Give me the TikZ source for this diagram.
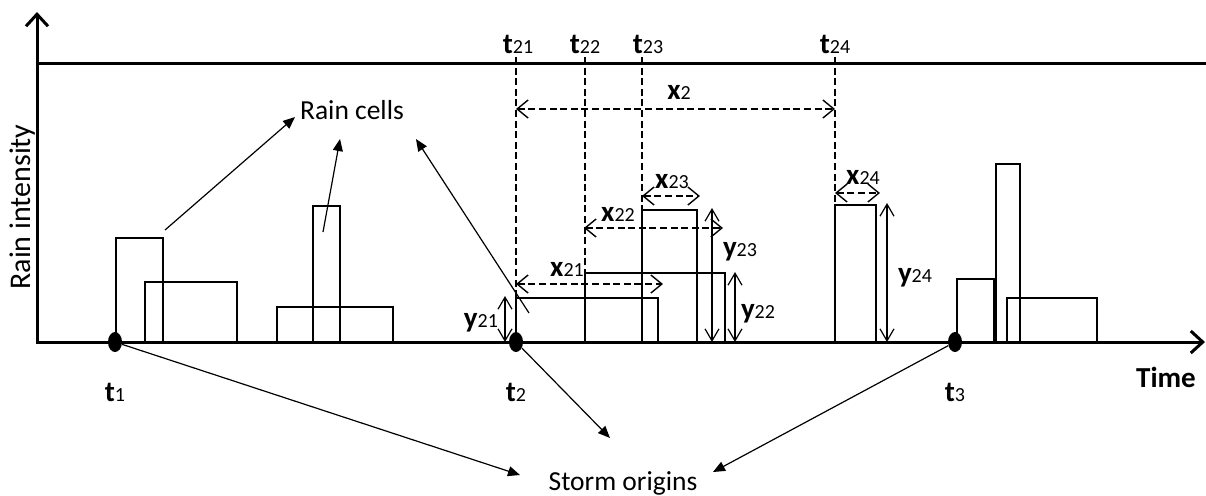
\documentclass[tikz,border=0pt]{standalone}
\usepackage{fontspec}
\setmainfont{Carlito}
\usetikzlibrary{arrows.meta,shapes.geometric}
\newcommand\sbs[1]{{\mdseries\fontsize{10}{12}\selectfont#1}}
\begin{document}
\begin{tikzpicture}[x=.5pt,y=-.5pt,
axis/.style={line width=1.5pt,line join=miter,{Straight Barb[length=6pt,width=11pt]}-{Straight Barb[length=6pt,width=11pt]}},
cell/.style={line width=.8pt},
guide/.style={dash pattern=on 3.5pt off 1.8pt,line width=.7pt},
span/.style={guide,{Straight Barb[length=5.5pt,width=9pt]}-{Straight Barb[length=5.5pt,width=9pt]}},
height/.style={line width=.6pt,{Straight Barb[length=6pt,width=7pt]}-{Straight Barb[length=6pt,width=7pt]}},
point/.style={line width=.6pt,-{Triangle[length=6pt,width=5pt]}},
origin/.style={ellipse,fill,inner sep=0,minimum width=7pt,minimum height=10pt},
lab/.style={font=\fontsize{14.5}{16}\selectfont\bfseries,anchor=base,inner sep=0},
txt/.style={font=\fontsize{13.75}{16}\selectfont,anchor=base,inner sep=0}]
\useasboundingbox (0,0) rectangle (1206,495);
% axes and upper limit
\draw[axis] (37,12) -- (37,342) -- (1205,342);
\draw[line width=1.5pt] (37,63) -- (1206,63);
\node[txt,rotate=90,font=\fontsize{15}{16}\selectfont] (ri) at (31,207) {Rain intensity};
\node[lab] (time) at (1166,387) {Time};
% rain cells
\foreach \a/\b/\h in {116/163/238,145/237/282,277/393/307,313/340/206,516/658/298,585/725/273,642/697/210,835/876/205,957/994/279,996/1020/164,1007/1097/298}
  \draw[cell] (\a,342) rectangle (\b,\h);
% cell starts of storm 2
\foreach \n/\x/\h/\lx in {21/516/298/518,22/585/273/585,23/642/210/648,24/835/205/835}{
  \draw[guide] (\x,57) -- (\x,\h);
  \node[lab] (t\n) at (\lx,53) {t\sbs{\n}};}
\foreach \n/\a/\b/\y/\lx/\ly in {2/516/835/109/679/99,21/516/663/284/567/276,22/584/723/228/618/221,23/642/700/196/672/188,24/835/880/193/863/184}{
  \draw[span] (\a,\y) -- (\b,\y);
  \node[lab] (x\n) at (\lx,\ly) {x\sbs{\n}};}
\foreach \n/\x/\h/\lx/\ly in {21/505/296/481/327,22/735/272/758/318,23/712/208/740/256,24/887/203/915/282}{
  \draw[height] (\x,342) -- (\x,\h);
  \node[lab] (y\n) at (\lx,\ly) {y\sbs{\n}};}
% storm origins
\foreach \n/\x in {1/115,2/516,3/955}{
  \node[origin] (o\n) at (\x,342) {};
  \node[lab] (t\n) at (\x,401) {t\sbs{\n}};}
\node[txt] (rc) at (352,119) {Rain cells};
\node[txt] (so) at (623,490) {Storm origins};
\coordinate (c1) at (165,230); \coordinate (c2) at (323,232); \coordinate (c3) at (529,313);
\coordinate (r1) at (295,117); \coordinate (r2) at (340,139); \coordinate (r3) at (416,139);
\coordinate (s1) at (520,475); \coordinate (s2) at (610,438); \coordinate (s3) at (713,472);
\foreach \i in {1,2,3}{
  \draw[point] (c\i) -- (r\i);
  \draw[point] (o\i) -- (s\i);}
\end{tikzpicture}
\end{document}
